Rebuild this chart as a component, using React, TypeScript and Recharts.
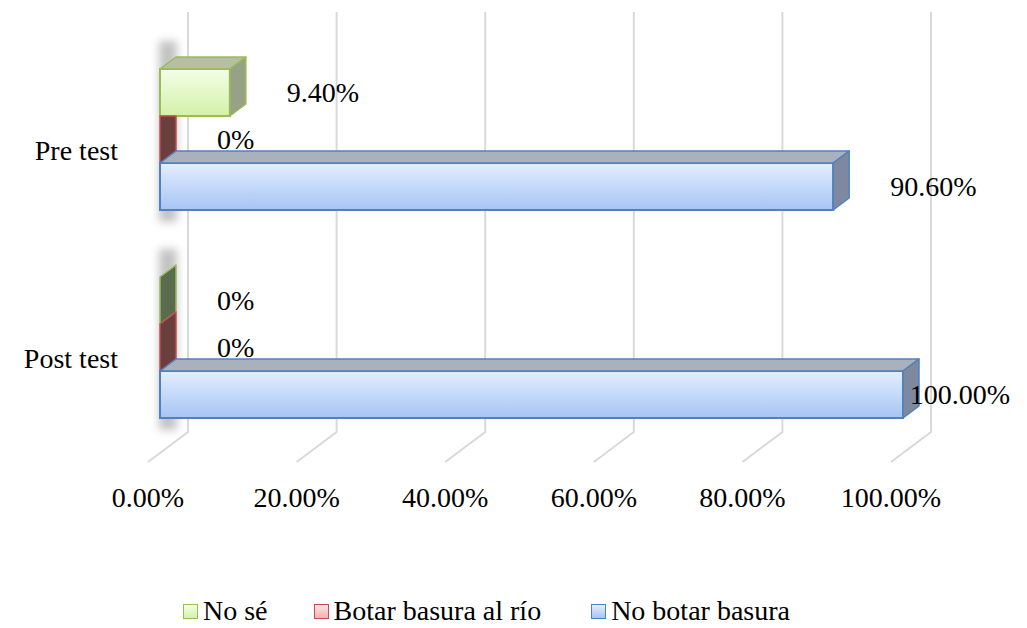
import React from "react";
import { BarChart, Bar, XAxis, YAxis, CartesianGrid, LabelList } from "recharts";

const categories = ["Pre test", "Post test"];
const noSe = [0.094, 0];
const botarRio = [0, 0];
const noBotar = [0.906, 1];
const xTicks = [0, 0.2, 0.4, 0.6, 0.8, 1];

const FONT = "Liberation Serif";
const FS = 28;

// depth of a bar in the 3D projection
const DX = 16;
const DY = 12;

const SERIES = [
  { key: "noSe", name: "No sé", border: "#9bbb59", light: "#f3fee6", dark: "#d3f1a8", top: "#b6bfa6", side: "#96a185", sideZero: "#5b6b4e" },
  { key: "botarRio", name: "Botar basura al río", border: "#c0504d", light: "#fde4e4", dark: "#f4b2b1", top: "#bda9a9", side: "#9a7676", sideZero: "#6b3f3d" },
  { key: "noBotar", name: "No botar basura", border: "#4f81bd", light: "#e4eefe", dark: "#a6c4f4", top: "#a9b1be", side: "#7e89a0", sideZero: "#475a78" },
];

const data = categories.map((name, i) => ({
  name,
  noSe: noSe[i],
  botarRio: botarRio[i],
  noBotar: noBotar[i],
}));

const fmt = (v: number) => (v === 0 ? "0%" : (v * 100).toFixed(2) + "%");

const textWidth = (s: string) =>
  s.split("").reduce((acc, c) => acc + (c === "." ? 0.25 : c === "%" ? 0.833 : 0.5), 0) * FS;

function Box3D(props: any) {
  const { x, y, width, height, payload, tone, idx } = props;
  const w = Math.max(0, Number(width) || 0);
  const h = Number(height) || 0;
  const s = tone;
  const above = idx > 0 ? SERIES[idx - 1].key : null;
  const coveredAbove = above && payload && payload[above] > 0;

  // side face at the end of the bar
  const sidePts = coveredAbove && w === 0
    ? `${x},${y} ${x + DX},${y} ${x + DX},${y + h - DY} ${x},${y + h}`
    : `${x + w},${y} ${x + w + DX},${y - DY} ${x + w + DX},${y + h - DY} ${x + w},${y + h}`;

  return (
    <g>
      {idx === 0 && (
        <rect
          x={x - 1}
          y={y - DY - 16}
          width={DX + 2}
          height={3 * h + DY + 28}
          fill="#7a7a7a"
          opacity={0.45}
          filter="url(#barShadow)"
        />
      )}
      {w > 0 && (
        <rect x={x} y={y} width={w} height={h} fill={`url(#front-${s.key})`} stroke={s.border} strokeWidth={2} />
      )}
      {w > 0 && (
        <polygon
          points={`${x},${y} ${x + DX},${y - DY} ${x + w + DX},${y - DY} ${x + w},${y}`}
          fill={s.top}
          stroke={s.border}
          strokeWidth={1.5}
          strokeLinejoin="round"
        />
      )}
      <polygon
        points={sidePts}
        fill={w > 0 ? s.side : s.sideZero}
        stroke={s.border}
        strokeWidth={1.5}
        strokeLinejoin="round"
      />
    </g>
  );
}

const renderLabel = (props: any) => {
  const vb = props.viewBox ?? props;
  const x = Number(vb.x ?? props.x);
  const y = Number(vb.y ?? props.y);
  const w = Number(vb.width ?? props.width) || 0;
  const h = Number(vb.height ?? props.height) || 0;
  const text = fmt(Number(props.value));
  let tx = x + w + 57;
  let anchor: "start" | "end" = "start";
  if (tx + textWidth(text) > 1010) {
    tx = 1010;
    anchor = "end";
  }
  return (
    <text
      x={tx}
      y={y + h / 2}
      textAnchor={anchor}
      dominantBaseline="central"
      style={{ fontFamily: FONT, fontSize: FS }}
      fill="#000"
    >
      {text}
    </text>
  );
};

// back wall gridline plus the floor line running to the front
const renderVertical = (p: any) => {
  const { x1, y1, y2 } = p;
  return (
    <polyline
      key={`v-${x1}`}
      points={`${x1 + 28},${y1} ${x1 + 28},${y2 - 30} ${x1 - 12},${y2}`}
      fill="none"
      stroke="#d9d9d9"
      strokeWidth={2}
    />
  );
};

const XTick = (p: any) => (
  <text
    x={p.x - 12}
    y={p.y}
    textAnchor="middle"
    dominantBaseline="central"
    style={{ fontFamily: FONT, fontSize: FS }}
    fill="#000"
  >
    {(Number(p.payload.value) * 100).toFixed(2) + "%"}
  </text>
);

const YTick = (p: any) => (
  <text
    x={p.x}
    y={p.y + 11}
    textAnchor="end"
    dominantBaseline="central"
    style={{ fontFamily: FONT, fontSize: FS }}
    fill="#000"
  >
    {p.payload.value}
  </text>
);

export default function App() {
  return (
    <div style={{ position: "absolute", left: 0, top: 0, width: 1027, height: 628, background: "#fff" }}>
      <BarChart
        width={1027}
        height={628}
        data={data}
        layout="vertical"
        margin={{ top: 12, right: 124, left: 0, bottom: 106 }}
        barCategoryGap={34}
        barGap={0}
      >
        <defs>
          {SERIES.map((s) => (
            <linearGradient key={s.key} id={`front-${s.key}`} x1="0" y1="0" x2="0" y2="1">
              <stop offset="0%" stopColor={s.light} />
              <stop offset="100%" stopColor={s.dark} />
            </linearGradient>
          ))}
          <filter id="barShadow" x="-100%" y="-20%" width="300%" height="140%">
            <feGaussianBlur stdDeviation="4" />
          </filter>
        </defs>
        <CartesianGrid horizontal={false} vertical={renderVertical} />
        <XAxis
          type="number"
          domain={[0, 1]}
          ticks={xTicks}
          interval={0}
          axisLine={false}
          tickLine={false}
          tickSize={0}
          tickMargin={35}
          height={60}
          tick={<XTick />}
        />
        <YAxis
          type="category"
          dataKey="name"
          width={160}
          axisLine={false}
          tickLine={false}
          tickSize={0}
          tickMargin={42}
          padding={{ top: 23, bottom: 11 }}
          tick={<YTick />}
        />
        {SERIES.map((s, i) => (
          <Bar
            key={s.key}
            dataKey={s.key}
            name={s.name}
            isAnimationActive={false}
            shape={(p: any) => <Box3D {...p} tone={s} idx={i} />}
          >
            <LabelList dataKey={s.key} content={renderLabel} />
          </Bar>
        ))}
      </BarChart>
      <div
        style={{
          position: "absolute",
          left: 183,
          top: 594,
          height: 34,
          display: "flex",
          alignItems: "center",
          fontFamily: FONT,
          fontSize: FS,
          lineHeight: "34px",
          whiteSpace: "nowrap",
        }}
      >
        {SERIES.map((s, i) => (
          <div key={s.key} style={{ display: "flex", alignItems: "center", marginLeft: i === 0 ? 0 : i === 1 ? 46 : 50 }}>
            <span
              style={{
                display: "inline-block",
                width: 13,
                height: 13,
                border: `1.5px solid ${s.border}`,
                background: `linear-gradient(${s.light}, ${s.dark})`,
                marginRight: 5,
              }}
            />
            <span>{s.name}</span>
          </div>
        ))}
      </div>
    </div>
  );
}
